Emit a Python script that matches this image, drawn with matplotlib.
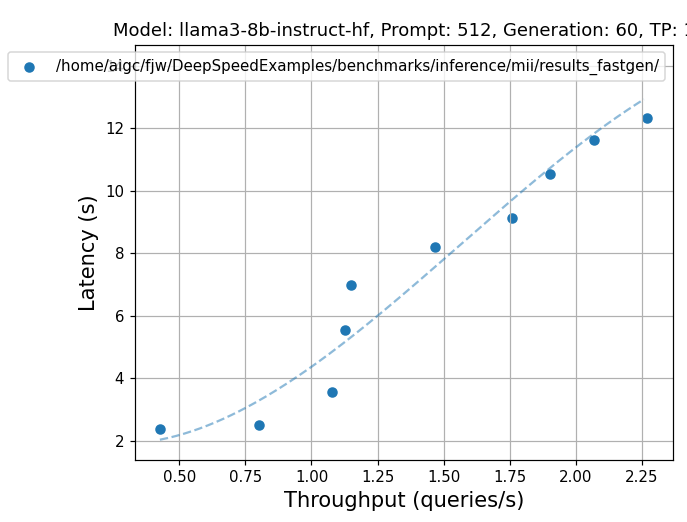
"""
plot.py - throughput vs latency chart for the fastgen benchmark run.

Scatter of measured points plus the dashed trend line, saved to out.png.
"""

import numpy as np
import matplotlib
matplotlib.use("Agg")   # headless
import matplotlib.pyplot as plt

# ── Data ───────────────────────────────────────────────────────────────────────
MODEL      = "llama3-8b-instruct-hf"
PROMPT     = 512
GENERATION = 60
TP_SIZE    = 1
RUN_LABEL  = "/home/aigc/fjw/DeepSpeedExamples/benchmarks/inference/mii/results_fastgen/"

throughput = [0.427, 0.803, 1.078, 1.125, 1.149, 1.468, 1.758, 1.902, 2.068, 2.269]
latency    = [2.37, 2.52, 3.57, 5.55, 6.98, 8.20, 9.12, 10.52, 11.63, 12.32]

# trend line as drawn in the chart (read at the grid columns)
trend_tput    = [0.427, 0.50, 0.75, 1.00, 1.25, 1.50, 1.75, 2.00, 2.259]
trend_latency = [2.05, 2.18, 3.08, 4.26, 6.04, 7.92, 9.60, 11.32, 12.97]

DPI = 108


def main():
    fig = plt.figure(figsize=(687 / DPI, 522 / DPI), dpi=DPI)
    ax = fig.add_axes([0.1958, 0.1188, 0.7838, 0.795])

    ax.scatter(throughput, latency, label=RUN_LABEL, marker="o", color="C0")

    # smooth cubic through the trend readings
    fit_x = np.arange(min(trend_tput), max(trend_tput), 0.01)
    fit_fn = np.poly1d(np.polyfit(trend_tput, trend_latency, 3))
    ax.plot(fit_x, fit_fn(fit_x), color="C0", alpha=0.5, linestyle="--")

    ax.set_title(f"Model: {MODEL}, Prompt: {PROMPT}, Generation: {GENERATION}, TP: {TP_SIZE}",
                 fontsize=12)
    ax.set_xlabel("Throughput (queries/s)", fontsize=14)
    ax.set_ylabel("Latency (s)", fontsize=14)
    ax.set_xlim(0.331, 2.367)
    ax.set_ylim(1.39, 14.66)
    ax.grid(True)
    ax.legend(loc="upper right")

    fig.savefig("out.png", dpi=DPI)
    plt.close(fig)


if __name__ == "__main__":
    main()
